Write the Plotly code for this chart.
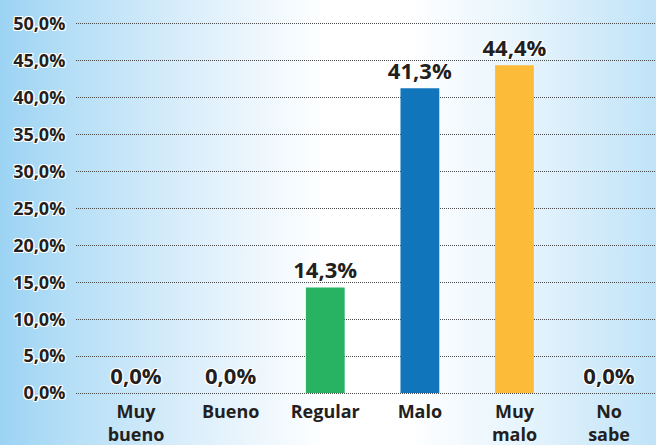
import base64
import plotly.graph_objects as go

categories = ["Muy<br>bueno", "Bueno", "Regular", "Malo", "Muy<br>malo", "No<br>sabe"]
values = [0.0, 0.0, 14.3, 41.3, 44.4, 0.0]
bar_colors = ["#27b362", "#27b362", "#27b362", "#1175bc", "#fdbb3a", "#27b362"]
y_ticks = [0, 5, 10, 15, 20, 25, 30, 35, 40, 45, 50]
y_tick_labels = [f"{v:.1f}%".replace(".", ",") for v in y_ticks]

W, H = 656, 445
ML, MR, MT, MB = 76, 0, 20, 48
PW, PH = W - ML - MR, H - MT - MB

svg = f'''<svg xmlns="http://www.w3.org/2000/svg" width="{W}" height="{H}" preserveAspectRatio="none">
<defs><linearGradient id="g" x1="0" y1="0" x2="1" y2="0">
<stop offset="0" stop-color="#9cd3f3"/>
<stop offset="0.12" stop-color="#b8e0f7"/>
<stop offset="0.3" stop-color="#ddeffb"/>
<stop offset="0.5" stop-color="#ffffff"/>
<stop offset="0.62" stop-color="#ffffff"/>
<stop offset="0.8" stop-color="#e6f4fc"/>
<stop offset="1" stop-color="#c0e3f8"/>
</linearGradient></defs>
<rect x="0" y="0" width="{W}" height="{H}" fill="url(#g)"/></svg>'''
src = "data:image/svg+xml;base64," + base64.b64encode(svg.encode()).decode()

shadow = "1px 1px 0 #fff, -1px -1px 0 #fff, 1px -1px 0 #fff, -1px 1px 0 #fff, 0 1px 0 #fff, 0 -1px 0 #fff, 1px 0 0 #fff, -1px 0 0 #fff"

fig = go.Figure(go.Bar(
    x=categories, y=values,
    marker=dict(color=bar_colors, line=dict(width=0)),
    texttemplate="%{y:.1f}%",
    textposition="outside",
    constraintext="none",
    cliponaxis=False,
    textfont=dict(family="Open Sans", size=22, color="#231f20", weight="bold", shadow=shadow),
))

fig.update_layout(
    width=W, height=H,
    margin=dict(l=ML, r=MR, t=MT, b=MB, pad=0),
    paper_bgcolor="white",
    plot_bgcolor="rgba(0,0,0,0)",
    separators=",.",
    bargap=0.59,
    showlegend=False,
    images=[dict(source=src, xref="paper", yref="paper",
                 x=-ML / PW, y=1 + MT / PH, sizex=W / PW, sizey=H / PH,
                 xanchor="left", yanchor="top", sizing="stretch", layer="below")],
    xaxis=dict(
        type="category", range=[-0.635, 5.496],
        showgrid=False, zeroline=False, showline=False,
        ticks="", ticklabelstandoff=2,
        tickfont=dict(family="Open Sans", size=18, color="#231f20", weight="bold"),
    ),
    yaxis=dict(
        range=[-0.54, 50.54], tickvals=y_ticks, ticktext=y_tick_labels,
        showgrid=True, gridcolor="#4a4a4a", griddash="1px,1px", gridwidth=1,
        zeroline=False, showline=False,
        ticks="outside", ticklen=6, tickcolor="rgba(0,0,0,0)",
        tickfont=dict(family="Open Sans", size=18, color="#231f20", weight="bold", shadow=shadow),
    ),
)

fig.write_html("out.html", config={"displayModeBar": False},
               post_script="document.body.style.margin='0';document.body.style.overflow='hidden';")
